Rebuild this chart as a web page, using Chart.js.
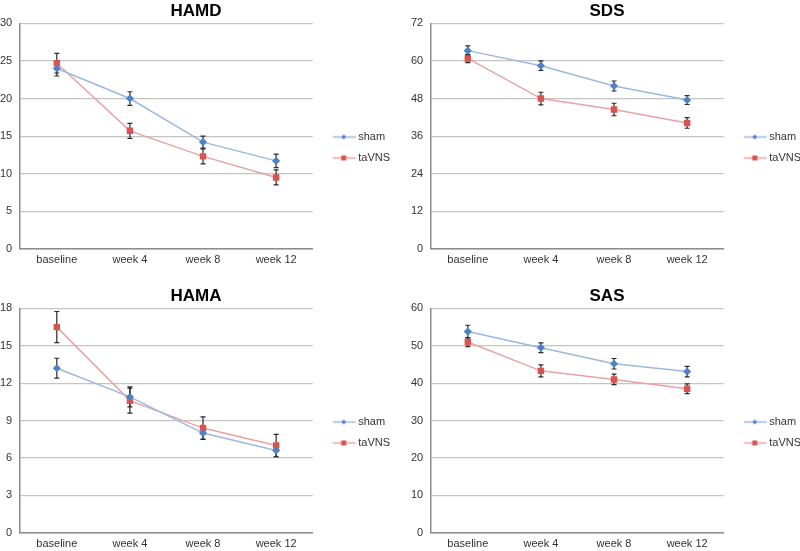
<!DOCTYPE html>
<html>
<head>
<meta charset="utf-8">
<script src="https://cdn.jsdelivr.net/npm/chart.js@4.4.1/dist/chart.umd.min.js"></script>
<style>
  html, body { margin: 0; padding: 0; background: #fff; }
  #wrap { position: relative; width: 800px; height: 551px; overflow: hidden; }
  .panel { position: absolute; width: 408px; }
</style>
</head>
<body>
<div id="wrap">
  <div class="panel" style="left:-8px;top:0;height:275px"><canvas id="hamd"></canvas></div>
  <div class="panel" style="left:403px;top:0;height:275px"><canvas id="sds"></canvas></div>
  <div class="panel" style="left:-8px;top:275px;height:283px"><canvas id="hama"></canvas></div>
  <div class="panel" style="left:403px;top:275px;height:283px"><canvas id="sas"></canvas></div>
</div>
<script>
// Datos
const categories = ["baseline", "week 4", "week 8", "week 12"];
const seriesNames = ["sham", "taVNS"];

const hamdSham = [24.0, 20.0, 14.2, 11.7];
const hamdShamErr = [1.0, 0.9, 0.8, 0.9];
const hamdTavns = [24.7, 15.7, 12.3, 9.5];
const hamdTavnsErr = [1.3, 1.0, 1.0, 1.0];

const sdsSham = [63.3, 58.5, 52.0, 47.5];
const sdsShamErr = [1.5, 1.5, 1.6, 1.4];
const sdsTavns = [60.8, 48.0, 44.5, 40.2];
const sdsTavnsErr = [1.3, 2.0, 2.0, 1.7];

const hamaSham = [13.2, 10.9, 8.0, 6.6];
const hamaShamErr = [0.8, 0.8, 0.5, 0.5];
const hamaTavns = [16.5, 10.6, 8.4, 7.0];
const hamaTavnsErr = [1.25, 1.0, 0.9, 0.9];

const sasSham = [53.8, 49.5, 45.2, 43.1];
const sasShamErr = [1.7, 1.3, 1.4, 1.4];
const sasTavns = [51.0, 43.3, 41.0, 38.5];
const sasTavnsErr = [1.2, 1.6, 1.4, 1.3];

// máximos y pasos del eje y: HAMD, SDS, HAMA, SAS
const yMaxes = [30, 72, 18, 60];
const ySteps = [5, 12, 3, 10];

const blueLine = "#9bb9e0";
const blueMark = "#4f81c7";
const redLine = "#e8a3a3";
const redMark = "#d9534f";

// Barras de error dibujadas con la escala y del gráfico
const errorBars = {
    id: "errorBars",
    beforeDatasetsDraw(chart) {
        const ctx = chart.ctx;
        const yScale = chart.scales.y;
        chart.data.datasets.forEach((ds, i) => {
            const meta = chart.getDatasetMeta(i);
            ctx.save();
            ctx.strokeStyle = "#2a2a2a";
            ctx.lineWidth = 1.2;
            meta.data.forEach((pt, j) => {
                const top = yScale.getPixelForValue(ds.data[j] + ds.errors[j]);
                const bot = yScale.getPixelForValue(ds.data[j] - ds.errors[j]);
                ctx.beginPath();
                ctx.moveTo(pt.x, top);
                ctx.lineTo(pt.x, bot);
                ctx.moveTo(pt.x - 2.5, top);
                ctx.lineTo(pt.x + 2.5, top);
                ctx.moveTo(pt.x - 2.5, bot);
                ctx.lineTo(pt.x + 2.5, bot);
                ctx.stroke();
            });
            ctx.restore();
        });
    }
};

// Icono de leyenda: línea con marcador al centro
function legendIcon(lineColor, markColor, shape) {
    const c = document.createElement("canvas");
    c.width = 40;
    c.height = 9;
    const g = c.getContext("2d");
    g.strokeStyle = lineColor;
    g.lineWidth = 1.5;
    g.beginPath();
    g.moveTo(15, 4.5);
    g.lineTo(38, 4.5);
    g.stroke();
    g.fillStyle = markColor;
    if (shape === "rect") {
        g.fillRect(23.5, 2, 5, 5);
    } else {
        g.beginPath();
        g.moveTo(26, 2);
        g.lineTo(28.5, 4.5);
        g.lineTo(26, 7);
        g.lineTo(23.5, 4.5);
        g.closePath();
        g.fill();
    }
    return c;
}
const icons = [legendIcon(blueLine, blueMark, "rectRot"), legendIcon(redLine, redMark, "rect")];

function makeChart(id, title, sham, shamErr, tavns, tavnsErr, idx, pad, titlePad, legendShift) {
    const ctx = document.getElementById(id).getContext("2d");
    return new Chart(ctx, {
        type: "line",
        data: {
            labels: categories,
            datasets: [
                {
                    label: seriesNames[0],
                    data: sham,
                    errors: shamErr,
                    borderColor: blueLine,
                    backgroundColor: blueMark,
                    pointBackgroundColor: blueMark,
                    pointBorderColor: blueMark,
                    pointStyle: "rectRot",
                    pointRadius: 3,
                    borderWidth: 1.5,
                    tension: 0
                },
                {
                    label: seriesNames[1],
                    data: tavns,
                    errors: tavnsErr,
                    borderColor: redLine,
                    backgroundColor: redMark,
                    pointBackgroundColor: redMark,
                    pointBorderColor: redMark,
                    pointStyle: "rect",
                    pointRadius: 3.5,
                    borderWidth: 1.5,
                    tension: 0
                }
            ]
        },
        options: {
            responsive: true,
            maintainAspectRatio: false,
            animation: false,
            layout: { padding: pad },
            plugins: {
                title: {
                    display: true,
                    text: title,
                    color: "#000",
                    font: { family: "'Liberation Sans', Arial, sans-serif", size: 17, weight: "bold" },
                    padding: titlePad
                },
                legend: {
                    position: "right",
                    // título vacío solo para bajar las entradas
                    title: {
                        display: true,
                        text: "",
                        font: { size: 10 },
                        padding: { top: legendShift / 2, bottom: legendShift / 2 }
                    },
                    labels: {
                        usePointStyle: true,
                        pointStyleWidth: 30,
                        padding: 10,
                        color: "#333",
                        font: { family: "'Liberation Sans', Arial, sans-serif", size: 11 },
                        generateLabels(chart) {
                            const items = Chart.defaults.plugins.legend.labels.generateLabels(chart);
                            items.forEach((it, i) => { it.pointStyle = icons[i]; });
                            return items;
                        }
                    }
                },
                tooltip: { enabled: false }
            },
            scales: {
                x: {
                    offset: true,
                    grid: { display: false, drawTicks: false },
                    border: { display: true, color: "#8c8c8c", width: 1.5 },
                    ticks: {
                        color: "#333",
                        padding: 5,
                        font: { family: "'Liberation Sans', Arial, sans-serif", size: 11 }
                    }
                },
                y: {
                    min: 0,
                    max: yMaxes[idx],
                    grid: { color: "#c4c4c4", lineWidth: 1.2, drawTicks: false },
                    border: { display: true, color: "#8c8c8c", width: 1.5 },
                    ticks: {
                        stepSize: ySteps[idx],
                        color: "#333",
                        padding: 8,
                        font: { family: "'Liberation Sans', Arial, sans-serif", size: 11 }
                    }
                }
            }
        },
        plugins: [errorBars]
    });
}

const topPad = { left: 0, right: 0, top: 0, bottom: 3 };
const bottomPad = { left: 0, right: 0, top: 0, bottom: 2 };

makeChart("hamd", "HAMD", hamdSham, hamdShamErr, hamdTavns, hamdTavnsErr, 0,
    topPad, { top: 1, bottom: 2 }, 11);
makeChart("sds", "SDS", sdsSham, sdsShamErr, sdsTavns, sdsTavnsErr, 1,
    topPad, { top: 1, bottom: 2 }, 11);
makeChart("hama", "HAMA", hamaSham, hamaShamErr, hamaTavns, hamaTavnsErr, 2,
    bottomPad, { top: 11, bottom: 2 }, 22);
makeChart("sas", "SAS", sasSham, sasShamErr, sasTavns, sasTavnsErr, 3,
    bottomPad, { top: 11, bottom: 2 }, 22);
</script>
</body>
</html>
